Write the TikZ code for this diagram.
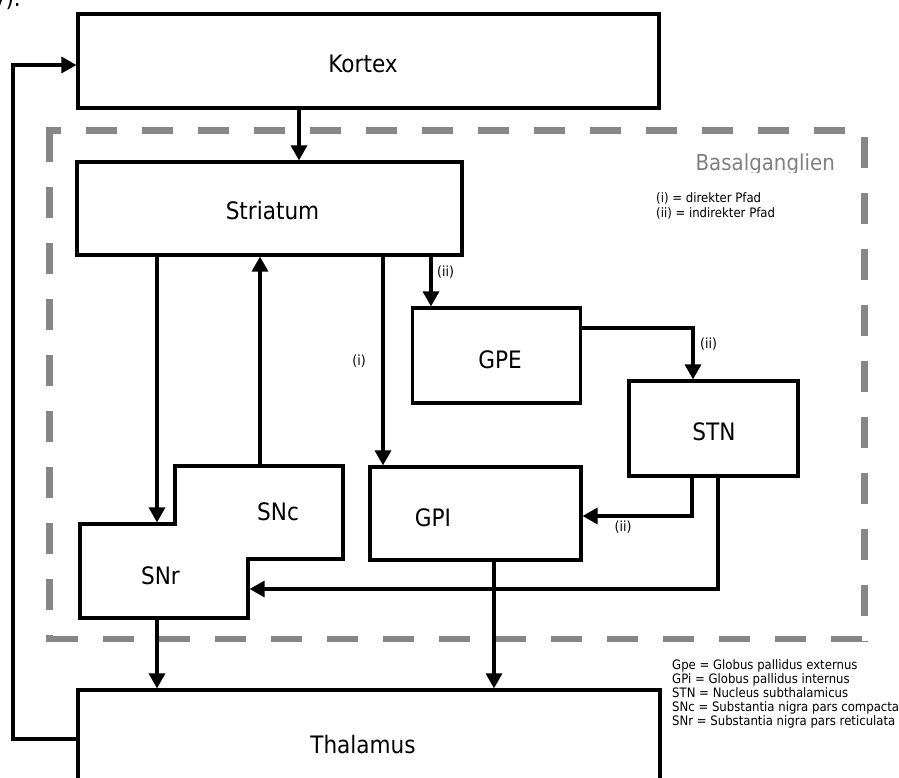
\documentclass[tikz,border=0pt]{standalone}
\usepackage{fontspec}
\setmainfont{DejaVu Sans}[FakeStretch=0.9]
\usetikzlibrary{arrows.meta}
\definecolor{dashgray}{HTML}{878787}
\definecolor{txtgray}{HTML}{808080}
\begin{document}
\begin{tikzpicture}[x=1pt,y=-1pt,
  box/.style={draw=black, line width=3.2pt, inner sep=0pt},
  lab/.style={font=\fontsize{24}{28}\selectfont, inner sep=0pt},
  small/.style={font=\fontsize{14}{16}\selectfont, inner sep=0pt},
  legend/.style={font=\fontsize{13}{15}\selectfont, inner sep=0pt, anchor=base west},
  conn/.style={line width=3.2pt, -{Triangle[length=15pt,width=16pt]}},
  dashline/.style={draw=dashgray, line width=6.5pt, dash pattern=on 31pt off 25pt}]
\useasboundingbox (0,0) rectangle (899,778);

% dashed Basalganglien frame
\draw[dashline, dash phase=16pt] (46,130.5) -- (868,130.5);
\draw[dashline] (49.5,131) -- (49.5,642);
\draw[dashline] (864.5,137) -- (864.5,642);
\draw[dashline, dash phase=55pt] (46,639) -- (868,639);
\begin{scope}
  \clip (600,140) rectangle (860,173);
  \node[anchor=base east, text=txtgray, font=\fontsize{22}{26}\selectfont, inner sep=0pt] (basal) at (835,171) {Basalganglien};
\end{scope}

% fragment of caption above
\node[lab, anchor=base east] (frag) at (21,7) {y).};

% boxes
\node[box, minimum width=581pt, minimum height=94pt] (Kortex) at (368.5,61) {};
\node[lab] (Kortexlab) at (363,64) {Kortex};
\node[box, minimum width=168pt, minimum height=95pt] (GPE) at (496.5,355.5) {};
\node[lab] (GPElab) at (500,360) {GPE};
\node[box, minimum width=385pt, minimum height=93pt] (Striatum) at (269.5,208.5) {};
\node[lab] (Striatumlab) at (272.5,211) {Striatum};
\node[box, minimum width=169pt, minimum height=95pt] (STN) at (713.5,428.5) {};
\node[lab] (STNlab) at (714,432) {STN};
\node[box, minimum width=211pt, minimum height=93pt] (GPI) at (475.5,513.5) {};
\node[lab] (GPIlab) at (433,518) {GPI};
\node[box, minimum width=582pt, minimum height=110pt] (Thalamus) at (369,745) {};
\node[lab] (Thalamuslab) at (363,745) {Thalamus};

% SNc / SNr shape
\coordinate (p1) at (175,466);
\coordinate (p2) at (343,466);
\coordinate (p3) at (343,559);
\coordinate (p4) at (248,559);
\coordinate (p5) at (248,618);
\coordinate (p6) at (80,618);
\coordinate (p7) at (80,524);
\coordinate (p8) at (175,524);
\draw[line width=3.2pt] (p1) -- (p2) -- (p3) -- (p4) -- (p5) -- (p6) -- (p7) -- (p8) -- cycle;
\node[lab] (SNc) at (278,512) {SNc};
\node[lab] (SNr) at (160.5,575.5) {SNr};
\coordinate (SNrtop) at (157,522.4);
\coordinate (SNrbot) at (157,618);
\coordinate (SNctop) at (260,466);
\coordinate (SNrright) at (249.6,589);

% x positions of vertical connectors
\coordinate (xk) at (299,0);
\coordinate (xgpi) at (383,0);
\coordinate (xgpe) at (431,0);
\coordinate (xstn) at (693,0);
\coordinate (xsg) at (692,0);
\coordinate (xss) at (718,0);
\coordinate (xgt) at (494,0);
\coordinate (xfb) at (13,0);
\coordinate (ygs) at (0,328);
\coordinate (ysg) at (0,516);
\coordinate (yss) at (0,589);
\coordinate (ytk) at (0,739);
\coordinate (ykk) at (0,65);

% connectors
\draw[conn] (Kortex.south -| xk) -- (Striatum.north -| xk);
\draw[conn] (Striatum.south -| SNrtop) -- (SNrtop);
\draw[conn] (SNctop) -- (Striatum.south -| SNctop);
\draw[conn] (Striatum.south -| xgpi) -- (GPI.north -| xgpi);
\draw[conn] (Striatum.south -| xgpe) -- (GPE.north -| xgpe);
\draw[conn] (GPE.east |- ygs) -| (STN.north -| xstn);
\draw[conn] (STN.south -| xsg) |- (GPI.east |- ysg);
\draw[conn] (STN.south -| xss) |- (SNrright);
\draw[conn] (SNrbot) -- (Thalamus.north -| SNrbot);
\draw[conn] (GPI.south -| xgt) -- (Thalamus.north -| xgt);
\draw[conn] (Thalamus.west |- ytk) -| (xfb |- ykk) -- (Kortex.west |- ykk);

% path labels
\node[small] (l1) at (445.5,272) {(ii)};
\node[small] (l2) at (708.5,344) {(ii)};
\node[small] (l3) at (623,527.5) {(ii)};
\node[small] (l4) at (359,361) {(i)};

% legends
\node[legend] (lg1) at (656,203) {(i) = direkter Pfad};
\node[legend] (lg2) at (656,217) {(ii) = indirekter Pfad};
\node[legend] (lg3) at (672,669) {Gpe = Globus pallidus externus};
\node[legend] (lg4) at (672,683) {GPi = Globus pallidus internus};
\node[legend] (lg5) at (672,697) {STN = Nucleus subthalamicus};
\node[legend] (lg6) at (672,711) {SNc = Substantia nigra pars compacta};
\node[legend] (lg7) at (672,725) {SNr = Substantia nigra pars reticulata};
\end{tikzpicture}
\end{document}
